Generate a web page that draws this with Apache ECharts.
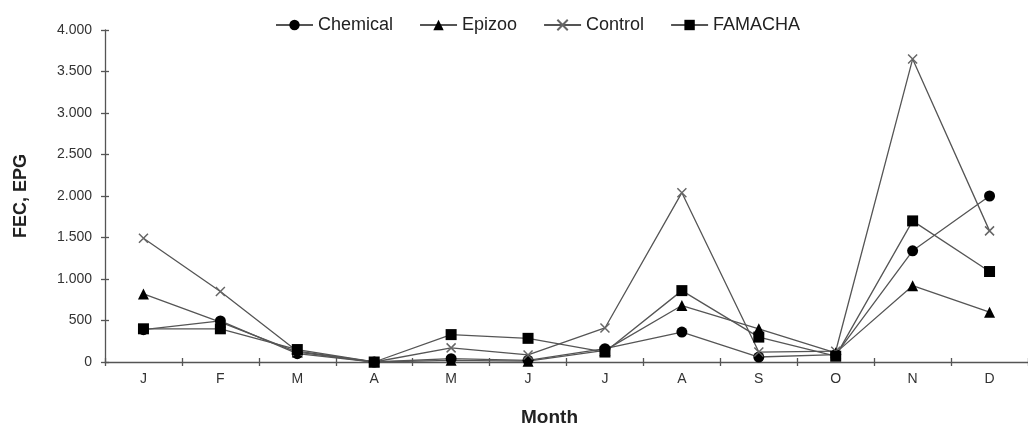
<!DOCTYPE html>
<html>
<head>
<meta charset="utf-8">
<script src="https://cdn.jsdelivr.net/npm/echarts@6/dist/echarts.min.js"></script>
<style>
html,body{margin:0;padding:0;background:#fff;}
#chart{width:1028px;height:432px;}
</style>
</head>
<body>
<div id="chart"></div>
<script>
var months = ['J','F','M','A','M','J','J','A','S','O','N','D'];
var yTicks = [0, 500, 1000, 1500, 2000, 2500, 3000, 3500, 4000];
var yTickLabels = ['0','500','1.000','1.500','2.000','2.500','3.000','3.500','4.000'];
var chemical = [390, 495, 100, 0, 40, 20, 160, 360, 60, 90, 1340, 2000];
var epizoo   = [820, 480, 120, 0, 20, 10, 140, 680, 400, 110, 920, 600];
var control  = [1490, 850, 130, 0, 170, 85, 410, 2040, 120, 130, 3650, 1580];
var famacha  = [400, 400, 150, 0, 330, 285, 120, 860, 300, 70, 1700, 1090];

var lineColor = '#555';
var font = 'Liberation Sans, Arial, sans-serif';
function fmt(v){ var i = yTicks.indexOf(v); return i >= 0 ? yTickLabels[i] : ''; }

function mk(name, data, symbol, color, size, stroke){
  var s = {
    name: name, type: 'line', data: data, symbol: symbol, symbolSize: size,
    showAllSymbol: true,
    lineStyle: {color: lineColor, width: 1.3},
    itemStyle: {color: color},
    emphasis: {disabled: true},
    z: 3
  };
  if (stroke) {
    s.itemStyle = {color: 'rgba(0,0,0,0)', borderColor: color, borderWidth: 1.5};
  }
  return s;
}

var chart = echarts.init(document.getElementById('chart'), null, {renderer: 'canvas'});
chart.setOption({
  animation: false,
  backgroundColor: '#fff',
  textStyle: {fontFamily: font},
  legend: {
    top: 11, left: 270,
    itemWidth: 37, itemHeight: 13, itemGap: 26,
    textStyle: {fontSize: 18, color: '#222', fontFamily: font},
    data: ['Chemical','Epizoo','Control','FAMACHA']
  },
  grid: {left: 105, right: -5, top: 30, bottom: 66, containLabel: false},
  xAxis: [{
    type: 'category', data: months, boundaryGap: true,
    axisLine: {lineStyle: {color: '#555', width: 1.3}},
    axisTick: {show: true, length: 4, lineStyle: {color: '#555', width: 1.3}},
    axisLabel: {fontSize: 14, color: '#333', margin: 10, fontFamily: font},
    name: 'Month', nameLocation: 'middle', nameGap: 46,
    nameTextStyle: {fontSize: 19, fontWeight: 'bold', color: '#222', fontFamily: font, padding: [0, 34, 0, 0]}
  },{
    type: 'category', data: months, boundaryGap: true, position: 'bottom',
    axisLine: {show: false},
    axisTick: {show: true, inside: true, length: 4, lineStyle: {color: '#555', width: 1.3}},
    axisLabel: {show: false}
  }],
  yAxis: [{
    type: 'value', min: 0, max: 4000, interval: 500,
    axisLine: {show: true, lineStyle: {color: '#555', width: 1.3}},
    axisTick: {show: true, length: 4, lineStyle: {color: '#555', width: 1.3}},
    splitLine: {show: false},
    axisLabel: {fontSize: 14, color: '#333', margin: 13, fontFamily: font, formatter: fmt},
    name: 'FEC, EPG', nameLocation: 'middle', nameGap: 75, nameRotate: 90,
    nameTextStyle: {fontSize: 18, fontWeight: 'bold', color: '#222', fontFamily: font}
  },{
    type: 'value', min: 0, max: 4000, interval: 500, position: 'left',
    axisLine: {show: false},
    axisTick: {show: true, inside: true, length: 4, lineStyle: {color: '#555', width: 1.3}},
    splitLine: {show: false},
    axisLabel: {show: false}
  }],
  series: [
    mk('Chemical', chemical, 'circle', '#000', 11),
    mk('Epizoo', epizoo, 'triangle', '#000', 11),
    mk('Control', control, 'path://M0,0L10,10M10,0L0,10', '#666', 9, true),
    mk('FAMACHA', famacha, 'rect', '#000', 11)
  ]
});
</script>
</body>
</html>
